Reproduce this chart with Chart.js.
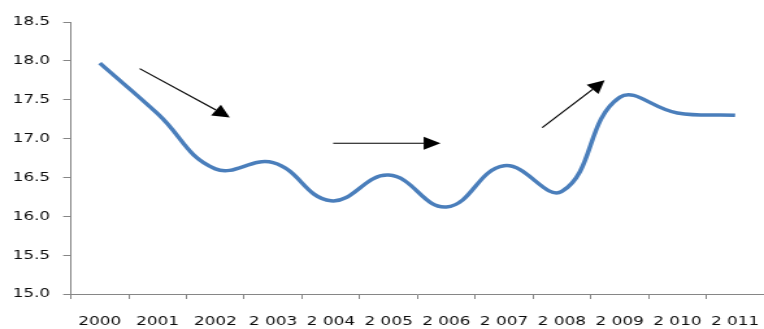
<!DOCTYPE html>
<html>
<head>
<meta charset="utf-8">
<script src="https://cdn.jsdelivr.net/npm/chart.js@4/dist/chart.umd.min.js"></script>
<style>
  html, body { margin: 0; padding: 0; background: #fff; overflow: hidden; }
</style>
</head>
<body>
<!-- drawn narrow, shown stretched sideways -->
<canvas id="lineCanvas" width="588" height="329" style="width:764px;height:329px;display:block"></canvas>
<script>
const years = [2000, 2001, 2002, 2003, 2004, 2005, 2006, 2007, 2008, 2009, 2010, 2011];
const yearLabels = ["2000", "2001", "2002", "2 003", "2 004", "2 005", "2 006", "2 007", "2 008", "2 009", "2 010", "2 011"];
const values = [17.97, 17.32, 16.61, 16.69, 16.2, 16.53, 16.12, 16.65, 16.32, 17.53, 17.33, 17.3];
const yTicks = [15.0, 15.5, 16.0, 16.5, 17.0, 17.5, 18.0, 18.5];

// trend arrows, [from index, from value, to index, to value]
const arrows = [
    [0.69, 17.9, 2.25, 17.27],
    [4.04, 16.94, 5.9, 16.94],
    [7.66, 17.14, 8.74, 17.75]
];

const axisGrey = "#868686";
const textColor = "#0d0d0d";

const arrowPlugin = {
    id: "arrows",
    afterDatasetsDraw(chart) {
        const ctx = chart.ctx;
        const x = chart.scales.x, y = chart.scales.y;
        ctx.save();
        ctx.strokeStyle = "#000";
        ctx.fillStyle = "#000";
        ctx.lineWidth = 1.2;
        arrows.forEach(a => {
            const x1 = x.getPixelForValue(a[0]), y1 = y.getPixelForValue(a[1]);
            const x2 = x.getPixelForValue(a[2]), y2 = y.getPixelForValue(a[3]);
            const ang = Math.atan2(y2 - y1, x2 - x1);
            const len = 13, half = 6.5;
            const bx = x2 - len * Math.cos(ang), by = y2 - len * Math.sin(ang);
            ctx.beginPath();
            ctx.moveTo(x1, y1);
            ctx.lineTo(bx, by);
            ctx.stroke();
            ctx.beginPath();
            ctx.moveTo(x2, y2);
            ctx.lineTo(bx + half * Math.sin(ang), by - half * Math.cos(ang));
            ctx.lineTo(bx - half * Math.sin(ang), by + half * Math.cos(ang));
            ctx.closePath();
            ctx.fill();
        });
        ctx.restore();
    }
};

const lineCanvas = document.getElementById("lineCanvas");
const lineChart = new Chart(lineCanvas, {
    type: "line",
    data: {
        labels: years,
        datasets: [{
            data: values,
            borderColor: "#4a7ebb",
            borderWidth: 3.5,
            tension: 0.42,
            pointRadius: 0,
            fill: false
        }]
    },
    plugins: [arrowPlugin],
    options: {
        responsive: false,
        animation: false,
        layout: { padding: { top: 22, right: 0, left: 0, bottom: 0 } },
        plugins: {
            legend: { display: false },
            tooltip: { enabled: false }
        },
        scales: {
            x: {
                offset: true,
                grid: { offset: true, drawOnChartArea: false, drawTicks: true, tickLength: 5, color: axisGrey },
                border: { color: axisGrey, width: 1 },
                ticks: {
                    autoSkip: false,
                    maxRotation: 0,
                    padding: 15,
                    color: textColor,
                    font: { family: "DejaVu Sans", size: 13 },
                    callback: (v, i) => yearLabels[i]
                },
                afterFit: s => {
                    s.height = 35;
                    s.paddingLeft = 0;
                    s.paddingRight = 0;
                }
            },
            y: {
                min: 15,
                max: 18.5,
                afterBuildTicks: s => { s.ticks = yTicks.map(v => ({ value: v })); },
                grid: { drawOnChartArea: false, drawTicks: true, tickLength: 6, color: axisGrey },
                border: { color: axisGrey, width: 1 },
                ticks: {
                    padding: 10,
                    color: textColor,
                    font: { family: "DejaVu Sans", size: 13 },
                    callback: v => v.toFixed(1)
                },
                afterFit: s => { s.width = 54.6; }
            }
        }
    }
});
</script>
</body>
</html>
